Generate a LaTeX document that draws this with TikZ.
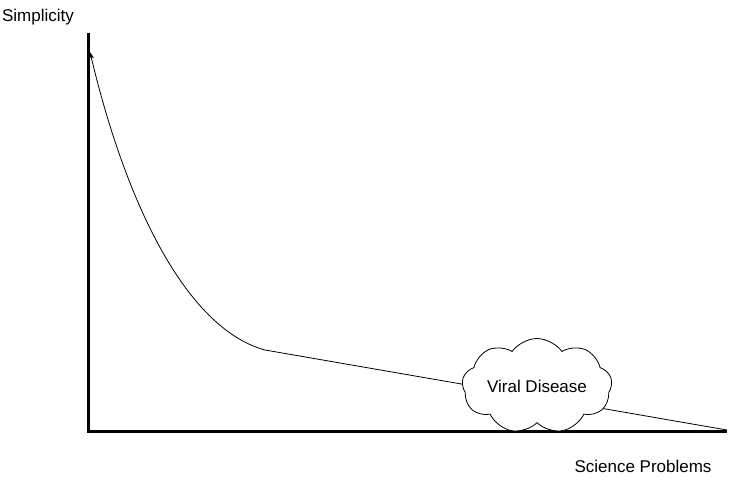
\documentclass[tikz,border=0pt]{standalone}
\usepackage{fontspec}
\setmainfont{Liberation Sans}
\usetikzlibrary{shapes.symbols,arrows.meta}
\begin{document}
\begin{tikzpicture}[x=1pt,y=-1pt,
  axis/.style={line width=3pt},
  curveline/.style={line width=0.8pt},
  lbl/.style={font=\fontsize{17}{20}\selectfont, inner sep=0pt},
  cloudnode/.style={cloud, cloud puffs=9, cloud puff arc=110, aspect=1.9, draw, fill=white, line width=0.8pt, minimum width=150pt, minimum height=86pt, font=\fontsize{17}{20}\selectfont, inner sep=0pt}]
\useasboundingbox (0,0) rectangle (740,483);
\coordinate (top) at (88,33);
\coordinate (origin) at (88,431);
\coordinate (right) at (727,431);
\coordinate (start) at (727,430);
\coordinate (knee) at (265,350);
\coordinate (tip) at (90,52);
\draw[axis] (top) -- (origin) -- (right);
\draw[curveline, -{Stealth[length=7pt,width=5pt]}] (start) -- (knee) .. controls (185,328) and (125,200) .. (tip);
\node[cloudnode] (cl) at (537,386) {Viral Disease};
\node[lbl] (ylab) at (38,17) {Simplicity};
\node[lbl] (xlab) at (643,466) {Science Problems};
\end{tikzpicture}
\end{document}
